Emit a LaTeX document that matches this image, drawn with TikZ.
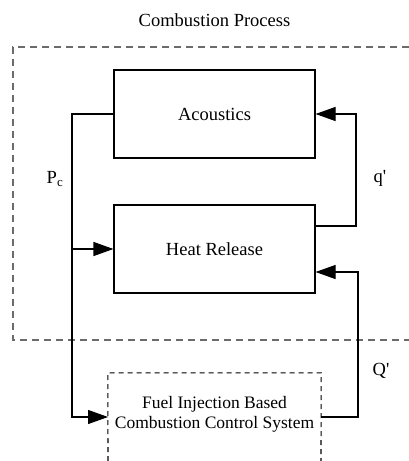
\documentclass[tikz,border=0pt]{standalone}
\usepackage{fontspec}
\setmainfont{Liberation Serif}
\usetikzlibrary{arrows.meta}
\begin{document}
\begin{tikzpicture}[x=1pt,y=-1pt,
  blk/.style={draw, line width=1.1pt, minimum width=201pt, minimum height=88pt, inner sep=0pt, font=\fontsize{18.5}{22}\selectfont},
  conn/.style={line width=1.1pt},
  arr/.style={conn, -{Triangle[length=20pt,width=14pt]}},
  lbl/.style={font=\fontsize{18.5}{22}\selectfont, inner sep=0pt},
  outer/.style={draw=black!58, line width=1.1pt, dash pattern=on 7pt off 5pt},
  fuelbox/.style={draw=black, line width=1.1pt, dash pattern=on 5pt off 4pt}]
\useasboundingbox (0,0) rectangle (409,461);
\node[lbl] (title) at (214.5,20) {Combustion Process};
\draw[outer] (409,47) -- (13,47) -- (13,340) -- (409,340);
\node[blk] (ac) at (214.5,114) {Acoustics};
\node[blk] (hr) at (214.5,249) {Heat Release};
\node[inner sep=0pt, minimum width=213pt, minimum height=82pt, align=center,
      font=\fontsize{17.5}{20}\selectfont] (fuel) at (214.5,414) {Fuel Injection Based\\Combustion Control System};
\draw[fuelbox] (108,461) -- (fuel.north west) -- (fuel.north east) -- (321,461);
\coordinate (fl) at (108,417);
\coordinate (fr) at (321,417);
\coordinate (j1) at (72,249);
% left loop
\draw[conn] (ac.west) -- (72,114) -- (j1);
\draw[arr] (j1) -- (72,417) -- (fl);
\draw[arr] (j1) -- (hr.west);
% q' loop
\draw[arr] ([yshift=23pt]hr.east) -- (356,226) -- (356,114) -- (ac.east);
% Q' loop
\draw[arr] (fr) -- (358,417) -- (358,272) -- ([yshift=-23pt]hr.east);
% labels
\node[lbl] (pc) at (55,179) {P\textsubscript{c}};
\node[lbl] (qp) at (380,178) {q\textquotesingle};
\node[lbl] (Qp) at (381,371) {Q\textquotesingle};
\end{tikzpicture}
\end{document}
